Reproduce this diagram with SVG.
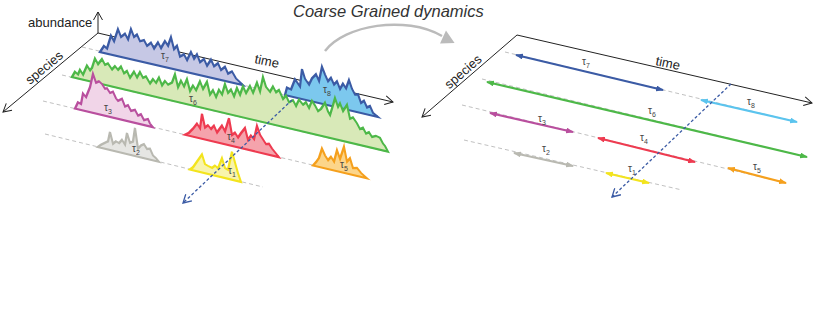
<svg xmlns="http://www.w3.org/2000/svg" width="814" height="329" viewBox="0 0 814 329">
<style>
.ax{stroke:#222;stroke-width:1;fill:none}
.gd{stroke:#b0b0b0;stroke-width:0.8;stroke-dasharray:4 3;fill:none}
.pk{stroke-width:2.2;stroke-linejoin:miter}
.lb{font-family:"Liberation Sans",Arial,sans-serif;font-size:10px;fill:#444}
.sb{font-size:7px}
.axl{font-family:"Liberation Sans",Arial,sans-serif;font-size:13px;fill:#222}
.da{stroke:#3b5ba5;stroke-width:1.3;stroke-dasharray:3 2.2;fill:none}
.ar{stroke-width:2.2;fill:none}
</style>
<defs>
<marker id="chev" markerUnits="userSpaceOnUse" viewBox="0 0 10 10" refX="9" refY="5" markerWidth="10" markerHeight="10" orient="auto"><path d="M1,0.5 L9,5 L1,9.5" fill="none" stroke="#222" stroke-width="1"/></marker>
<marker id="chevb" markerUnits="userSpaceOnUse" viewBox="0 0 10 10" refX="9" refY="5" markerWidth="10" markerHeight="10" orient="auto"><path d="M1,0.5 L9,5 L1,9.5" fill="none" stroke="#3b5ba5" stroke-width="1.3"/></marker>
<marker id="mBlue" markerUnits="userSpaceOnUse" viewBox="0 0 8 6" refX="7" refY="3" markerWidth="8" markerHeight="6" orient="auto-start-reverse"><path d="M0,0 L8,3 L0,6 z" fill="#3b5ba5"/></marker>
<marker id="mLBlue" markerUnits="userSpaceOnUse" viewBox="0 0 8 6" refX="7" refY="3" markerWidth="8" markerHeight="6" orient="auto-start-reverse"><path d="M0,0 L8,3 L0,6 z" fill="#5bc4ee"/></marker>
<marker id="mGreen" markerUnits="userSpaceOnUse" viewBox="0 0 8 6" refX="7" refY="3" markerWidth="8" markerHeight="6" orient="auto-start-reverse"><path d="M0,0 L8,3 L0,6 z" fill="#4db848"/></marker>
<marker id="mMag" markerUnits="userSpaceOnUse" viewBox="0 0 8 6" refX="7" refY="3" markerWidth="8" markerHeight="6" orient="auto-start-reverse"><path d="M0,0 L8,3 L0,6 z" fill="#b94f9e"/></marker>
<marker id="mRed" markerUnits="userSpaceOnUse" viewBox="0 0 8 6" refX="7" refY="3" markerWidth="8" markerHeight="6" orient="auto-start-reverse"><path d="M0,0 L8,3 L0,6 z" fill="#ee3b50"/></marker>
<marker id="mOr" markerUnits="userSpaceOnUse" viewBox="0 0 8 6" refX="7" refY="3" markerWidth="8" markerHeight="6" orient="auto-start-reverse"><path d="M0,0 L8,3 L0,6 z" fill="#f5a01d"/></marker>
<marker id="mGray" markerUnits="userSpaceOnUse" viewBox="0 0 8 6" refX="7" refY="3" markerWidth="8" markerHeight="6" orient="auto-start-reverse"><path d="M0,0 L8,3 L0,6 z" fill="#b9b9b1"/></marker>
<marker id="mYel" markerUnits="userSpaceOnUse" viewBox="0 0 8 6" refX="7" refY="3" markerWidth="8" markerHeight="6" orient="auto-start-reverse"><path d="M0,0 L8,3 L0,6 z" fill="#f3e41e"/></marker>
</defs>
<rect width="814" height="329" fill="#fff"/>

<!-- title and curved arrow -->
<text id="title" x="293" y="17" font-family="'Liberation Sans',Arial,sans-serif" font-style="italic" font-size="16.5" fill="#333">Coarse Grained dynamics</text>
<g id="cg-arrow">
<path d="M325,51 C345,25 405,15 442,36" fill="none" stroke="#bbb" stroke-width="2.5"/>
<polygon points="454.6,43 440,43.5 446,30.5" fill="#bbb"/>
</g>

<!-- LEFT PANEL -->
<g id="left-axes">
<line class="gd" x1="82" y1="47" x2="378" y2="117"/>
<line class="gd" x1="62" y1="75" x2="388" y2="152"/>
<line class="gd" x1="43" y1="101" x2="367" y2="178"/>
<line class="gd" x1="45" y1="134" x2="263" y2="187"/>
<line class="ax" x1="98" y1="33" x2="98" y2="12" marker-end="url(#chev)"/>
<line class="ax" x1="98" y1="33" x2="3" y2="112" marker-end="url(#chev)"/>
<line class="ax" x1="98" y1="33" x2="393" y2="102" marker-end="url(#chev)"/>
<text class="axl" x="28" y="27">abundance</text>
<text class="axl" x="47" y="71" text-anchor="middle" transform="rotate(-39.7 47 71)">species</text>
<text class="axl" x="254" y="63" transform="rotate(12 254 63)">time</text>
</g>

<g id="peak-t7" transform="translate(100,52) skewY(13)">
<polygon class="pk" fill="#c6c8e5" stroke="#3b5ba5" points="0,0 4,-7 7,-5 11,-19 14,-14 18,-27 21,-20 25,-24 28,-19 31,-30 34,-23 37,-26 40,-20 44,-22 47,-17 51,-21 54,-16 58,-23 61,-18 65,-26 68,-22 71,-31 74,-20 77,-24 80,-14 84,-17 87,-12 91,-21 94,-15 97,-20 100,-13 104,-17 107,-11 111,-18 114,-12 118,-16 121,-10 125,-14 128,-8 132,-11 136,-5 143,0"/>
</g>
<g id="peak-t8" transform="translate(285,95) skewY(13.3)">
<polygon class="pk" fill="#7cc8ee" stroke="#3b5ba5" points="0,0 2,-8 6,-7 10,-18 15,-12 17,-30 20,-21 24,-16 27,-23 31,-28 34,-22 37,-37 40,-30 43,-24 46,-28 49,-22 52,-26 55,-19 58,-25 61,-21 64,-30 67,-22 70,-17 73,-18 76,-10 79,-13 82,-7 85,-9 88,-3 93,0"/>
</g>
<g id="peak-t6" transform="translate(72,77) skewY(13.3)">
<polygon class="pk" fill="#d8e9b8" stroke="#4db848" points="0,0 3,-6 6,-4 8,-9 11,-5 15,-15 18,-11 20,-14 23,-24 26,-19 30,-25 33,-20 36,-22 40,-17 43,-21 46,-18 49,-22 52,-16 55,-19 58,-13 62,-20 65,-15 68,-21 71,-16 74,-18 78,-12 81,-17 84,-14 87,-20 90,-13 93,-18 96,-15 100,-18 103,-27 106,-15 109,-22 112,-17 115,-25 118,-14 121,-20 124,-16 128,-26 131,-19 135,-27 138,-15 141,-20 144,-14 147,-22 150,-18 153,-29 156,-21 159,-25 162,-19 165,-28 168,-22 171,-31 174,-25 178,-33 181,-27 185,-38 188,-30 191,-45 194,-36 198,-32 201,-38 204,-33 207,-36 211,-28 214,-32 217,-26 221,-29 224,-24 227,-31 231,-27 234,-30 237,-25 240,-33 243,-29 246,-24 249,-27 253,-34 256,-26 258,-23 260,-30 263,-41 266,-33 268,-37 271,-30 275,-37 278,-24 281,-26 285,-21 288,-16 291,-18 294,-13 297,-15 300,-11 304,-13 308,-12 311,-7 313,-5 316,0"/>
</g>
<g id="peak-t3" transform="translate(75,108.6) skewY(13.4)">
<polygon class="pk" fill="#f1d5e8" stroke="#b94f9e" points="0,0 3,-7 6,-6 8,-17 11,-14 15,-25 18,-39 21,-31 24,-33 27,-31 30,-27 32,-28 35,-24 38,-26 41,-20 43,-18 47,-21 50,-14 53,-16 56,-11 60,-13 63,-8 66,-10 69,-5 73,-7 75,-3 78,0"/>
</g>
<g id="peak-t4" transform="translate(185,134.8) skewY(13.4)">
<polygon class="pk" fill="#f5a3ac" stroke="#ee3b50" points="0,0 4,-3 8,-8 12,-14 15,-10 17,-25 20,-12 23,-15 26,-12 29,-16 32,-10 37,-18 40,-13 44,-27 47,-11 50,-14 53,-10 56,-15 60,-21 63,-10 66,-15 69,-12 72,-26 75,-18 78,-14 81,-10 84,-11 87,-7 90,-4 94,0"/>
</g>
<g id="peak-t5" transform="translate(313,165.5) skewY(13.4)">
<polygon class="pk" fill="#fcd58a" stroke="#f5a01d" points="0,0 3,-4 6,-9 9,-19 12,-13 15,-9 18,-13 21,-9 24,-21 27,-13 31,-26 34,-12 37,-16 40,-7 44,-8 48,-4 54,0"/>
</g>
<g id="peak-t2" transform="translate(98,147) skewY(13.7)">
<polygon class="pk" fill="#e6e6e3" stroke="#b9b9b1" points="0,0 3,-3 7,-6 10,-8 12,-18 15,-7 18,-10 21,-9 24,-13 27,-9 29,-21 32,-12 35,-14 37,-28 40,-8 43,-12 46,-14 49,-10 52,-11 55,-5 58,-3 61,0"/>
</g>
<g id="peak-t1" transform="translate(190,169.5) skewY(13.7)">
<polygon class="pk" fill="#f8f4ac" stroke="#f3e41e" points="0,0 3,-3 6,-8 9,-13 12,-18 15,-9 18,-8 22,-7 25,-10 28,-8 32,-19 35,-10 38,-9 42,-28 45,-18 48,-8 51,0"/>
</g>

<g id="left-labels">
<text class="lb" x="161" y="59">τ<tspan class="sb" dy="3">7</tspan></text>
<text class="lb" x="323" y="93">τ<tspan class="sb" dy="3">8</tspan></text>
<text class="lb" x="189" y="102">τ<tspan class="sb" dy="3">6</tspan></text>
<text class="lb" x="104" y="111">τ<tspan class="sb" dy="3">3</tspan></text>
<text class="lb" x="227" y="140">τ<tspan class="sb" dy="3">4</tspan></text>
<text class="lb" x="340" y="168">τ<tspan class="sb" dy="3">5</tspan></text>
<text class="lb" x="132" y="152">τ<tspan class="sb" dy="3">2</tspan></text>
<text class="lb" x="228" y="174">τ<tspan class="sb" dy="3">1</tspan></text>
</g>

<!-- RIGHT PANEL -->
<g id="right-axes">
<line class="gd" x1="505" y1="52" x2="797" y2="122"/>
<line class="gd" x1="482" y1="79" x2="807" y2="157"/>
<line class="gd" x1="462" y1="105" x2="786" y2="183"/>
<line class="gd" x1="464" y1="140" x2="682" y2="190"/>
<line class="ax" x1="517" y1="35" x2="422" y2="117" marker-end="url(#chev)"/>
<line class="ax" x1="517" y1="35" x2="812" y2="103" marker-end="url(#chev)"/>
<text class="axl" x="466" y="75" text-anchor="middle" transform="rotate(-40.8 466 75)">species</text>
<text class="axl" x="655" y="65" transform="rotate(12 655 65)">time</text>
</g>

<g id="connectors">
<line id="arr-t7" class="ar" stroke="#3b5ba5" x1="516" y1="55" x2="663" y2="90" marker-start="url(#mBlue)" marker-end="url(#mBlue)"/>
<line id="arr-t8" class="ar" stroke="#5bc4ee" x1="701" y1="100" x2="797" y2="122" marker-start="url(#mLBlue)" marker-end="url(#mLBlue)"/>
<line id="arr-t6" class="ar" stroke="#4db848" x1="487" y1="82" x2="807" y2="157" marker-start="url(#mGreen)" marker-end="url(#mGreen)"/>
<line id="arr-t3" class="ar" stroke="#b94f9e" x1="490" y1="113" x2="573" y2="132" marker-start="url(#mMag)" marker-end="url(#mMag)"/>
<line id="arr-t4" class="ar" stroke="#ee3b50" x1="598" y1="138" x2="695" y2="162" marker-start="url(#mRed)" marker-end="url(#mRed)"/>
<line id="arr-t5" class="ar" stroke="#f5a01d" x1="728" y1="168" x2="786" y2="183" marker-start="url(#mOr)" marker-end="url(#mOr)"/>
<line id="arr-t2" class="ar" stroke="#b9b9b1" x1="514" y1="153" x2="573" y2="166" marker-start="url(#mGray)" marker-end="url(#mGray)"/>
<line id="arr-t1" class="ar" stroke="#f3e41e" x1="606" y1="173" x2="649" y2="183" marker-start="url(#mYel)" marker-end="url(#mYel)"/>
<line id="dash-left" class="da" x1="292" y1="100" x2="183" y2="203" marker-end="url(#chevb)"/>
<line id="dash-right" class="da" x1="731" y1="84" x2="612" y2="197" marker-end="url(#chevb)"/>
</g>

<g id="right-labels">
<text class="lb" x="582" y="65">τ<tspan class="sb" dy="3">7</tspan></text>
<text class="lb" x="747" y="105">τ<tspan class="sb" dy="3">8</tspan></text>
<text class="lb" x="648" y="114">τ<tspan class="sb" dy="3">6</tspan></text>
<text class="lb" x="538" y="122">τ<tspan class="sb" dy="3">3</tspan></text>
<text class="lb" x="640" y="141">τ<tspan class="sb" dy="3">4</tspan></text>
<text class="lb" x="753" y="170">τ<tspan class="sb" dy="3">5</tspan></text>
<text class="lb" x="542" y="152">τ<tspan class="sb" dy="3">2</tspan></text>
<text class="lb" x="628" y="172">τ<tspan class="sb" dy="3">1</tspan></text>
</g>
</svg>
